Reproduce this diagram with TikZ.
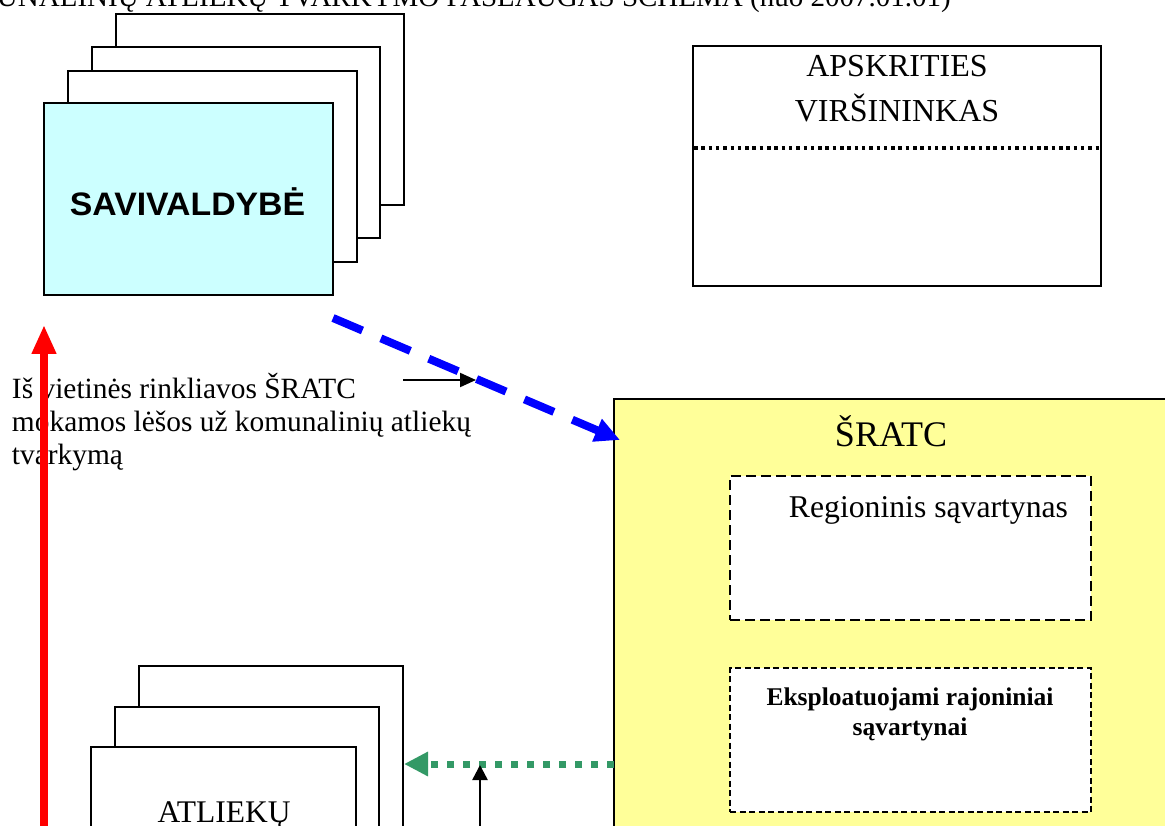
\documentclass[tikz,border=0pt]{standalone}
\usepackage{fontspec}
\setmainfont{Liberation Serif}
\newfontfamily\sansbold{Liberation Sans}
\usetikzlibrary{arrows.meta}
\definecolor{savcyan}{HTML}{CCFFFF}
\definecolor{ratcyellow}{HTML}{FFFF99}
\definecolor{seagreen}{HTML}{339966}
\newcommand\fsz[2]{\fontsize{#1pt}{#2pt}\selectfont}
\tikzset{
  plainbox/.style={draw, line width=2pt, fill=white, anchor=north west, inner sep=0pt, outer sep=0pt},
  dashbox/.style={draw, line width=2.5pt, fill=white, dash pattern=on 10pt off 5pt, anchor=north west, inner sep=0pt, outer sep=0pt},
  finedashbox/.style={draw, line width=2pt, fill=white, dash pattern=on 6pt off 3.5pt, anchor=north west, inner sep=0pt, outer sep=0pt},
  txt/.style={inner sep=0pt, outer sep=0pt, anchor=base},
  txtl/.style={inner sep=0pt, outer sep=0pt, anchor=base west},
}
\begin{document}
\begin{tikzpicture}[x=1pt,y=-1pt]
\useasboundingbox (0,0) rectangle (1165,826);
\clip (0,0) rectangle (1165,826);
\fill[white] (0,0) rectangle (1165,826);

% title (cut at the top of the page)
\node[inner sep=0pt, anchor=base east, font=\fsz{29}{33}] (title) at (951,7) {KOMUNALINIŲ ATLIEKŲ TVARKYMO PASLAUGAS SCHEMA (nuo 2007.01.01)};

% SAVIVALDYBE stack
\node[plainbox, minimum width=288pt, minimum height=191pt] (s4) at (116,14) {};
\node[plainbox, minimum width=288pt, minimum height=191pt] (s3) at (92,47) {};
\node[plainbox, minimum width=289pt, minimum height=191pt] (s2) at (68,71) {};
\node[plainbox, fill=savcyan, minimum width=289pt, minimum height=192pt] (sav) at (44,103) {};
\node[txt] (savtxt) at (187.5,216) {\scalebox{1.04}[1]{\sansbold\bfseries\fsz{32.5}{36}SAVIVALDYBĖ}};

% APSKRITIES VIRSININKAS
\node[plainbox, line width=2.8pt, minimum width=408pt, minimum height=240pt] (aps) at (693,46) {};
\node[txt, font=\fsz{32}{36}] (aps1) at (897,77) {APSKRITIES};
\node[txt, font=\fsz{32}{36}] (aps2) at (897,122) {VIRŠININKAS};
\draw[line width=3.5pt, dash pattern=on 3.5pt off 3.8pt] (694,148) -- (1099,148);

% SRATC
\node[plainbox, line width=2.5pt, fill=ratcyellow, minimum width=600pt, minimum height=500pt] (ratc) at (614,399) {};
\node[txt, font=\fsz{36}{40}] (ratctxt) at (891,446) {ŠRATC};
\node[dashbox, minimum width=361pt, minimum height=144pt] (reg) at (730,476) {};
\node[txt, font=\fsz{31.7}{36}] (regtxt) at (928.5,517) {Regioninis sąvartynas};
\node[finedashbox, minimum width=361pt, minimum height=144pt] (raj) at (730,668) {};
\node[txt, font=\bfseries\fsz{25.5}{30}] (raj1) at (910,705) {Eksploatuojami rajoniniai};
\node[txt, font=\bfseries\fsz{25.5}{30}] (raj2) at (910,735) {sąvartynai};

% ATLIEKU stack
\node[plainbox, minimum width=264pt, minimum height=200pt] (a3) at (139,666) {};
\node[plainbox, minimum width=264pt, minimum height=200pt] (a2) at (115,707) {};
\node[plainbox, minimum width=265pt, minimum height=200pt] (atl) at (91,747) {};
\node[txt, font=\fsz{31.5}{36}] (atltxt) at (224,822) {ATLIEKŲ};

% left text
\node[txtl, font=\fsz{29.4}{33}] (l1) at (12,398) {Iš vietinės rinkliavos ŠRATC};
\node[txtl, font=\fsz{29.4}{33}] (l2) at (12,431) {mokamos lėšos už komunalinių atliekų};
\node[txtl, font=\fsz{29.4}{33}] (l3) at (12,464) {tvarkymą};

% connectors
\coordinate (redstart) at (44,840);
\coordinate (redend) at (44,325);
\draw[red, line width=8pt, -{Triangle[length=29pt, width=23pt]}] (redstart) -- (redend);

\coordinate (bluestart) at (333,318);
\coordinate (blueend) at (620,440);
\draw[blue, line width=8pt, dash pattern=on 32pt off 20pt, -{Triangle[length=25pt, width=23pt]}] (bluestart) -- (blueend);

\coordinate (smallstart) at (403,380);
\coordinate (smallend) at (476,380);
\draw[black, line width=2pt, -{Triangle[length=16pt, width=14pt]}] (smallstart) -- (smallend);

\coordinate (greenstart) at (614,764);
\coordinate (greenend) at (404,764);
\draw[seagreen, line width=7pt, dash pattern=on 7pt off 9pt, -{Triangle[length=24pt, width=23pt]}] (greenstart) -- (greenend);

\coordinate (upstart) at (480,840);
\coordinate (upend) at (480,765);
\draw[black, line width=2.5pt, -{Triangle[length=15pt, width=15pt]}] (upstart) -- (upend);
\end{tikzpicture}
\end{document}
